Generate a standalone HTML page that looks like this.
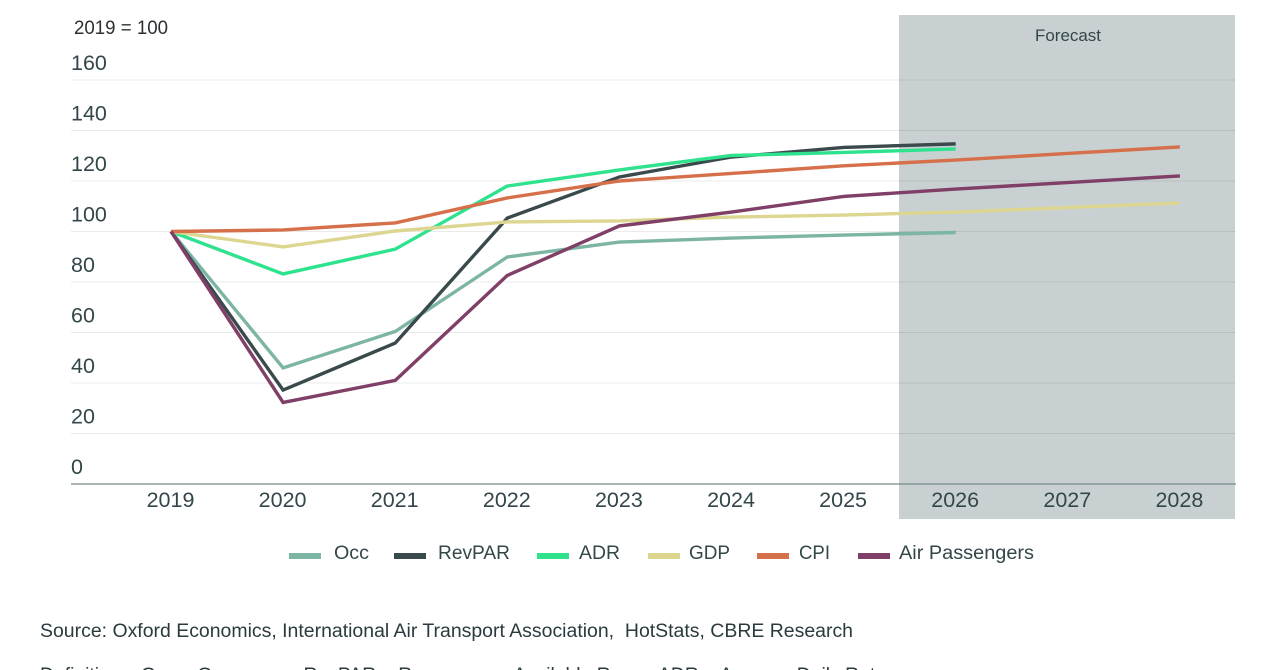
<!DOCTYPE html>
<html lang="en">
<head>
<meta charset="utf-8">
<title>Hotel performance index chart</title>
<style>
  html, body { margin: 0; padding: 0; background: #fff; width: 1280px; height: 670px; overflow: hidden; }
  svg { display: block; font-family: "Liberation Sans", sans-serif; }
  .pre { white-space: pre; }
</style>
</head>
<body>
<svg id="chart" xmlns="http://www.w3.org/2000/svg" width="1280" height="670" viewBox="0 0 1280 670">
  <rect x="899" y="15" width="336" height="504" fill="#c9d0d2"></rect>
  <g id="grid"></g>
  <text x="1035" y="41" font-size="16.5" fill="#33474a" textLength="66" lengthAdjust="spacingAndGlyphs">Forecast</text>
  <text x="74" y="34" font-size="19" fill="#2b3033" textLength="94" lengthAdjust="spacingAndGlyphs">2019 = 100</text>
  <g id="y-labels"></g>
  <line x1="71" x2="1236" y1="484" y2="484" stroke="#7a8a8c" stroke-width="1.2"></line>
  <g id="x-labels"></g>
  <g id="series"></g>
  <g id="legend"></g>
  <text class="pre" x="40" y="637" font-size="19" fill="#2a3a3e" textLength="813" lengthAdjust="spacingAndGlyphs">Source: Oxford Economics, International Air Transport Association,  HotStats, CBRE Research</text>
  <text x="40" y="681" font-size="19" fill="#2a3a3e" textLength="846" lengthAdjust="spacingAndGlyphs">Definitions: Occ = Occupancy, RevPAR = Revenue per Available Room, ADR = Average Daily Rate</text>
</svg>
<script>
const years = [2019, 2020, 2021, 2022, 2023, 2024, 2025, 2026, 2027, 2028];
const yTicks = [0, 20, 40, 60, 80, 100, 120, 140, 160];
const occ = [100, 46, 60.4, 89.9, 95.8, 97.4, 98.6, 99.6];
const revpar = [100, 37.2, 55.8, 105.3, 121.6, 129.5, 133.3, 134.7];
const adr = [100, 83.2, 93, 118, 124.4, 130.1, 131.3, 132.7];
const gdp = [100, 93.9, 100.2, 103.8, 104.2, 105.7, 106.5, 107.7, 109.5, 111.3];
const cpi = [100, 100.6, 103.4, 113.3, 120, 123, 126, 128.3, 130.9, 133.5];
const airPassengers = [100, 32.3, 41, 82.6, 102.2, 107.7, 113.9, 116.8, 119.4, 122];
const seriesNames = ['Occ', 'RevPAR', 'ADR', 'GDP', 'CPI', 'Air Passengers'];
const seriesValues = [occ, revpar, adr, gdp, cpi, airPassengers];
const seriesColors = ['#7db5a5', '#3a4a4c', '#2fe28e', '#dcd690', '#d5704a', '#7f3f66'];

const NS = 'http://www.w3.org/2000/svg';
function xScale(i) { return 171 + i * 112.1; }
function yScale(v) { return 484 - v * 2.525; }
function slug(s) { return s.toLowerCase().replace(/\s+/g, '-'); }

const gridG = document.getElementById('grid');
const yLabelG = document.getElementById('y-labels');
yTicks.forEach(function (t) {
  if (t !== 0) {
    const ln = document.createElementNS(NS, 'line');
    
    
    ln.setAttribute('x1', 71);
    ln.setAttribute('x2', 1236);
    ln.setAttribute('y1', yScale(t));
    ln.setAttribute('y2', yScale(t));
    ln.setAttribute('stroke', '#000');
    ln.setAttribute('stroke-opacity', 0.08);
    ln.setAttribute('stroke-width', 1);
    gridG.appendChild(ln);
  }
  const lb = document.createElementNS(NS, 'text');
  
  
  lb.setAttribute('x', 71);
  lb.setAttribute('y', yScale(t) - 10);
  lb.setAttribute('font-size', 21.5);
  lb.setAttribute('fill', '#33474a');
  lb.textContent = t;
  yLabelG.appendChild(lb);
});

const xLabelG = document.getElementById('x-labels');
years.forEach(function (yr, i) {
  const lb = document.createElementNS(NS, 'text');
  
  
  lb.setAttribute('x', xScale(i) - 0.5);
  lb.setAttribute('y', 507);
  lb.setAttribute('font-size', 21.5);
  lb.setAttribute('fill', '#33474a');
  lb.setAttribute('text-anchor', 'middle');
  lb.textContent = yr;
  xLabelG.appendChild(lb);
});

const seriesG = document.getElementById('series');
seriesValues.forEach(function (vals, s) {
  const p = document.createElementNS(NS, 'polyline');
  
  
  p.setAttribute('points', vals.map(function (v, i) { return xScale(i) + ',' + yScale(v); }).join(' '));
  p.setAttribute('fill', 'none');
  p.setAttribute('stroke', seriesColors[s]);
  p.setAttribute('stroke-width', 3.4);
  p.setAttribute('stroke-linejoin', 'miter');
  seriesG.appendChild(p);
});

const legendSwatchX = [289, 394, 537, 648, 757, 858];
const legendTextX = [334, 438, 579, 689, 799, 899];
const legendTextW = [35, 72, 41, 41, 31, 135];
const legendG = document.getElementById('legend');
seriesNames.forEach(function (name, s) {
  const r = document.createElementNS(NS, 'rect');
  
  
  r.setAttribute('x', legendSwatchX[s]);
  r.setAttribute('y', 553);
  r.setAttribute('width', 32);
  r.setAttribute('height', 6);
  r.setAttribute('fill', seriesColors[s]);
  legendG.appendChild(r);
  const t = document.createElementNS(NS, 'text');
  
  
  t.setAttribute('x', legendTextX[s]);
  t.setAttribute('y', 559);
  t.setAttribute('font-size', 19);
  t.setAttribute('fill', '#33474a');
  t.setAttribute('textLength', legendTextW[s]);
  t.setAttribute('lengthAdjust', 'spacingAndGlyphs');
  t.textContent = name;
  legendG.appendChild(t);
});
</script>
</body>
</html>
